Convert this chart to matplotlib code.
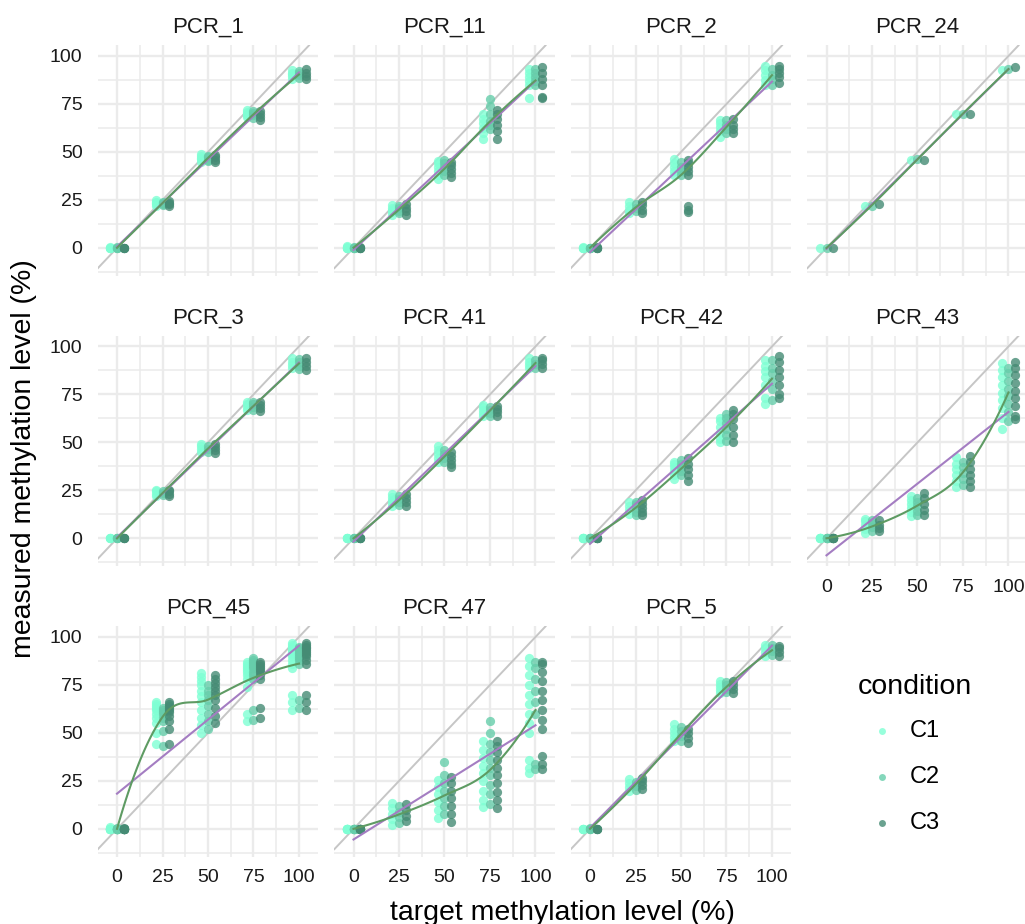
import numpy as np
import matplotlib
matplotlib.use("Agg")
import matplotlib.pyplot as plt
from matplotlib.lines import Line2D

plt.rcParams['font.family'] = ['Liberation Sans', 'DejaVu Sans']

# target levels and conditions
levels = [0, 25, 50, 75, 100]
conditions = ["C1", "C2", "C3"]
cond_colors = {"C1": "#7FFFD4", "C2": "#66CDAA", "C3": "#458B74"}

# measured values, one list per target level, read off the picture
# (replicates at 0 % sit on top of each other)
pcr_1 = {
    "C1": [[0, 0, 0, 0.5, 0], [22, 23, 24, 25, 23.5], [45, 46.5, 48, 49, 47], [68, 69.5, 71, 72, 70], [88, 89.5, 91, 92.5, 90.5]],
    "C2": [[0, 0, 0.3, 0], [22.5, 23, 24, 23.5], [45.5, 46, 47.5, 48], [67.5, 69, 70.5, 71.5], [88.5, 90, 91, 92]],
    "C3": [[0, 0.2, 0, 0], [22, 23, 24.5, 23.5], [45, 46, 47.5, 48.5], [66.5, 68, 70, 71.5], [88, 89.5, 91, 93]],
}
pcr_11 = {
    "C1": [[0, 0, 0.5, 1, 0, 0], [17, 18.5, 20, 21, 22.5], [36, 38, 40, 42, 44, 45.5], [57, 60, 62.5, 65, 67, 70], [78, 85, 87, 89, 91, 93]],
    "C2": [[0, 0.5, 0, 0, 0], [18, 19.5, 21, 22], [38, 40, 42, 44, 46], [62, 64, 66, 70, 74, 77.5], [85, 87, 89, 91, 93]],
    "C3": [[0, 0, 0.5, 0, 0], [17, 19, 21, 23], [37, 39, 41, 43, 45], [57, 61, 64, 67, 70, 72], [78, 78.5, 85, 88, 91, 94.5]],
}
pcr_2 = {
    "C1": [[0, 0, 0.5, 0, 0], [18, 20, 22, 24], [38, 40, 42, 44, 46.5], [58, 61, 63, 65, 66.5], [85, 87.5, 90, 92.5, 95]],
    "C2": [[0, 0, 0, 0], [19, 21, 23], [38, 40, 42, 45], [60, 62, 64, 66.5], [85, 88, 90, 93]],
    "C3": [[0, 0.5, 0, 0, 0], [18, 20, 22.5, 24], [18.5, 20, 22, 38, 40, 42, 44, 46], [60, 62, 64, 67], [86, 89, 91, 93, 95]],
}
pcr_24 = {
    "C1": [[0], [22], [46], [70], [92.5]],
    "C2": [[0], [22], [46.5], [70], [93]],
    "C3": [[0], [23], [46], [70], [94]],
}
pcr_3 = {
    "C1": [[0, 0, 0, 0], [22, 23, 24.5, 25], [45, 46.5, 48, 49], [67, 68.5, 70, 71], [89, 90.5, 92, 94]],
    "C2": [[0, 0, 0, 0], [22.5, 23.5, 24.5], [45, 46.5, 48], [67, 68.5, 70, 71], [88.5, 90, 92, 93.5]],
    "C3": [[0, 0, 0.5, 0], [22, 23, 24.5, 25], [44.5, 46, 47.5, 49], [66.5, 68, 69.5, 71], [88, 90, 92, 94]],
}
pcr_41 = {
    "C1": [[0, 0, 0, 0, 0], [17, 18.5, 20, 21.5, 23], [40, 42, 44, 46, 48], [64, 65.5, 67, 68.5, 69.5], [89, 90.5, 92, 94]],
    "C2": [[0, 0, 0.5, 0], [17.5, 19, 20.5, 22], [40, 42, 44, 46], [64, 65.5, 67, 68.5], [89, 91, 93]],
    "C3": [[0, 0.5, 0, 0, 0], [17, 19, 21, 23], [37, 39, 41, 43, 45], [64, 66, 67.5, 69], [89, 91, 93, 94]],
}
pcr_42 = {
    "C1": [[0, 0, 0.5, 0, 0, 0], [13, 15, 17, 19], [31, 33, 35, 37, 39, 40], [50, 52, 55, 58, 61, 63], [70, 73, 80, 84, 87, 90, 93]],
    "C2": [[0, 0, 0, 0, 0, 0], [12, 14, 16, 18, 19], [33, 35, 37, 39, 41], [51, 54, 57, 60, 63, 65], [72, 78, 82, 86, 89, 93]],
    "C3": [[0, 0.5, 0, 0, 0, 0], [12, 14, 16, 18, 20], [30, 33, 36, 39, 42], [50, 54, 58, 62, 65, 67], [73, 75, 80, 84, 88, 92, 95]],
}
pcr_43 = {
    "C1": [[0, 0, 0, 0, 0, 0, 0], [3, 5, 7, 9, 10], [11.5, 14, 16, 18, 20, 22], [27, 30, 33, 36, 39, 42.5],
           [57, 63, 68, 72, 76, 80, 84, 88, 91.5]],
    "C2": [[0, 0, 0.5, 0, 0, 0], [4, 6, 8, 9.5], [12, 14.5, 17, 19, 21], [28, 31, 34, 37, 40],
           [61, 66, 70, 74, 78, 82, 86, 89]],
    "C3": [[0, 0, 0, 0, 0, 0, 0], [4, 5.5, 7, 9.5], [12, 15, 18, 21, 23.5], [27, 30, 33, 36, 40, 43],
           [62, 64, 69, 73, 77, 81, 85, 89, 92]],
}
pcr_45 = {
    "C1": [[0, 0, 1, 0, 0, 0, 0, 0, 0, 0, 0], [44, 50, 55, 58, 60, 62, 63, 64, 65, 66],
           [50, 54, 58, 62, 66, 69, 72, 75, 77, 79, 81], [56, 60, 74, 78, 80, 82, 83, 84, 85, 86, 87],
           [62, 66, 70, 84, 86, 88, 90, 91, 92, 93, 94, 95, 96, 97]],
    "C2": [[0, 0.5, 0, 0, 0, 0, 0, 0, 0, 0, 0], [43, 51, 56, 58, 60, 61, 62, 63],
           [52, 56, 60, 64, 67, 70, 72, 75], [57, 62, 78, 80, 82, 84, 85, 86, 87, 88, 89],
           [63, 67, 86, 88, 89, 90, 91, 92, 93, 94, 95]],
    "C3": [[0, 0, 0.5, 0, 0, 0, 0, 0, 0, 0, 0], [44, 52, 56, 59, 61, 62, 63, 64, 65, 66],
           [55, 59, 63, 67, 70, 72, 74, 76, 78, 80], [58, 63, 78, 80, 82, 83, 84, 85, 86, 87],
           [62, 66, 70, 86, 88, 90, 91, 92, 93, 94, 95, 96, 97]],
}
pcr_47 = {
    "C1": [[0, 0, 0, 0, 0, 0, 0, 0, 0], [2, 5, 8, 11, 13.5], [5.7, 10, 14, 18, 22, 25.5], [11.5, 15, 20, 25, 29, 33, 37, 41, 46],
           [29, 32, 36, 50, 55, 60, 65, 70, 75, 80, 85, 89]],
    "C2": [[0, 0, 0, 0, 0, 0, 0, 0], [3, 6, 9, 12], [8, 12, 16, 20, 24, 28, 35], [13, 18, 23, 28, 32, 36, 40, 44, 50, 56],
           [31, 34, 60, 66, 72, 78, 84, 87]],
    "C3": [[0, 0, 0, 0, 0, 0, 0, 0, 0], [4, 7, 10, 13], [3.8, 8, 12, 16, 20, 24, 27], [11, 15, 19, 24, 28, 32, 36, 40, 43, 46],
           [31, 34, 38, 52, 57, 62, 67, 72, 77, 82, 86, 87]],
}
pcr_5 = {
    "C1": [[0, 0, 0, 0, 0], [20, 22, 24, 26], [46, 48, 50, 52, 54.5], [71, 72.5, 74, 75.5, 77], [90, 92, 94, 96]],
    "C2": [[0, 0.5, 0, 0], [20.5, 22.5, 24.5], [46, 48.5, 51, 53], [71.5, 73, 75, 76.5], [90.5, 92.5, 94.5, 96]],
    "C3": [[0, 0, 0, 0], [21, 23, 25, 26.5], [45, 47.5, 50, 52], [71, 73, 75, 77], [90, 92, 94, 95.5]],
}

panels = [("PCR_1", pcr_1), ("PCR_11", pcr_11), ("PCR_2", pcr_2), ("PCR_24", pcr_24),
          ("PCR_3", pcr_3), ("PCR_41", pcr_41), ("PCR_42", pcr_42), ("PCR_43", pcr_43),
          ("PCR_45", pcr_45), ("PCR_47", pcr_47), ("PCR_5", pcr_5)]

dodge = {"C1": -3.6, "C2": 0.0, "C3": 3.6}


def loess(x, y, grid, span=0.75):
    # local quadratic fits (tricube weights) at the distinct x values,
    # blended with cubic Hermite interpolation in between
    n = len(x)
    q = int(np.floor(n * span))
    levs = np.unique(x)
    vals, ders = [], []
    for x0 in levs:
        d = np.abs(x - x0)
        h = max(np.sort(d)[q - 1], np.sort(np.abs(levs - x0))[2] * 1.05)
        w = np.clip(1 - (d / h) ** 3, 0, None) ** 3
        X = np.column_stack([np.ones(n), x - x0, (x - x0) ** 2])
        sw = np.sqrt(w)
        beta = np.linalg.lstsq(X * sw[:, None], y * sw, rcond=None)[0]
        vals.append(beta[0])
        ders.append(beta[1])
    out = []
    for g in grid:
        k = min(max(np.searchsorted(levs, g, side="right") - 1, 0), len(levs) - 2)
        hh = levs[k + 1] - levs[k]
        t = (g - levs[k]) / hh
        out.append((2 * t**3 - 3 * t**2 + 1) * vals[k] + (t**3 - 2 * t**2 + t) * hh * ders[k]
                   + (-2 * t**3 + 3 * t**2) * vals[k + 1] + (t**3 - t**2) * hh * ders[k + 1])
    return np.array(out)


W, H = 1025, 924
fig = plt.figure(figsize=(W / 100, H / 100), dpi=100)

pw, ph = 220.2, 230.4
for i, (name, data) in enumerate(panels):
    r, c = divmod(i, 4)
    left = 97.9 + 236.5 * c
    top = 45.4 + 290.5 * r
    ax = fig.add_axes([left / W, 1 - (top + ph) / H, pw / W, ph / H])

    ax.axline((0, 0), slope=1, color="#C6C6C6", lw=1.4, zorder=1)

    xs_all, ys_all = [], []
    for cond in conditions:
        px, py = [], []
        for lev, vals in zip(levels, data[cond]):
            px += [lev + dodge[cond]] * len(vals)
            py += vals
            xs_all += [lev] * len(vals)
            ys_all += vals
        ax.scatter(px, py, s=44, color=cond_colors[cond], alpha=0.8, lw=0, zorder=2)

    xs_all = np.array(xs_all, dtype=float)
    ys_all = np.array(ys_all, dtype=float)
    grid = np.linspace(0, 100, 101)
    slope, icpt = np.polyfit(xs_all, ys_all, 1)
    ax.plot(grid, icpt + slope * grid, color="#A47DC2", lw=1.5, zorder=3)
    ax.plot(grid, loess(xs_all, ys_all, grid), color="#5E9B63", lw=1.5, zorder=4)

    ax.set_xlim(-10.5, 110.5)
    ax.set_ylim(-14.5, 105.5)
    ax.set_xticks(levels)
    ax.set_xticks([12.5, 37.5, 62.5, 87.5], minor=True)
    ax.set_yticks(levels)
    ax.set_yticks([-12.5, 12.5, 37.5, 62.5, 87.5], minor=True)
    ax.grid(which="major", color="#EBEBEB", lw=1.7)
    ax.grid(which="minor", color="#EBEBEB", lw=1.1)
    ax.set_axisbelow(True)
    for sp in ax.spines.values():
        sp.set_visible(False)
    ax.tick_params(which="both", length=0, labelsize=14, labelcolor="#1A1A1A")
    ax.tick_params(axis="y", pad=11)
    ax.tick_params(axis="x", pad=9)
    if c != 0:
        ax.set_yticklabels([])
    if i < 7:
        ax.set_xticklabels([])
    ax.text(0.5, 1 + 12.5 / ph, name, transform=ax.transAxes, ha="center", va="baseline",
            fontsize=16, color="#1A1A1A")

fig.text(562.7 / W, 4 / H, "target methylation level (%)", ha="center", va="baseline", fontsize=20.5)
fig.text(24 / W, 1 - 459 / H, "measured methylation level (%)", ha="center", va="center",
         rotation=90, fontsize=20.5)

# legend
fig.text(858 / W, 1 - 687 / H, "condition", ha="left", va="center", fontsize=20.5)
for cond, yy in zip(conditions, [731, 777, 823]):
    fig.add_artist(Line2D([881.5 / W], [1 - yy / H], marker="o", ms=5, color=cond_colors[cond],
                          alpha=0.8, mew=0, transform=fig.transFigure))
    fig.text(910 / W, 1 - yy / H, cond, ha="left", va="center", fontsize=17)

fig.savefig("out.png", dpi=100)
